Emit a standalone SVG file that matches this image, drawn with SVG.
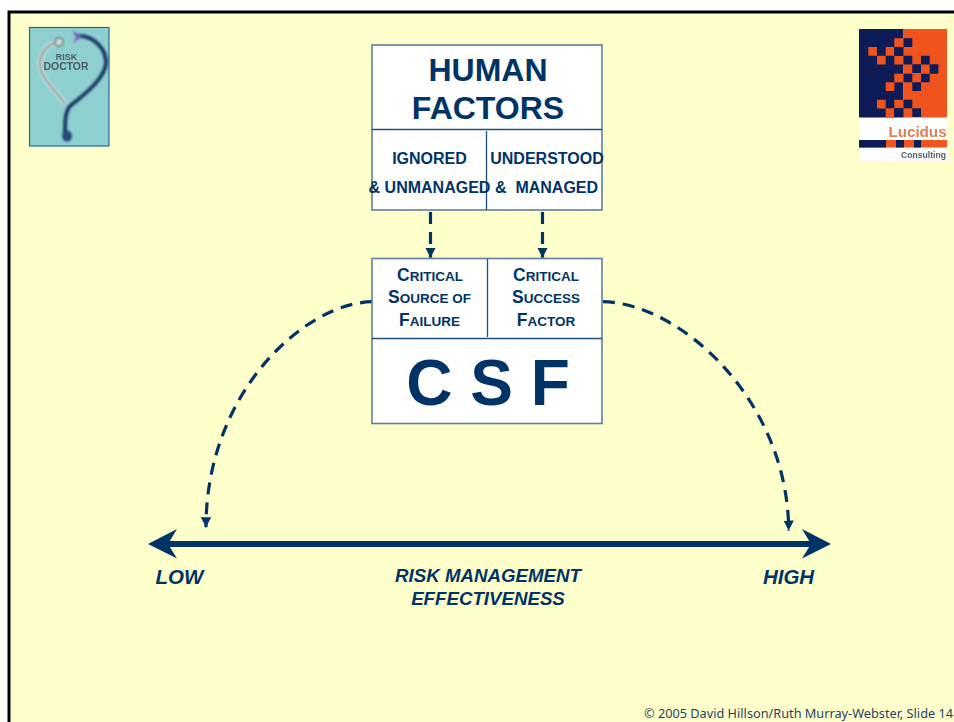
<svg xmlns="http://www.w3.org/2000/svg" width="954" height="722" viewBox="0 0 954 722">
<style>
.box{fill:#fff;stroke:#5f7f9c;stroke-width:1.6}
.div{stroke:#1f4f7c;stroke-width:1.3;fill:none}
text{font-family:"Liberation Sans",Arial,sans-serif;font-weight:bold;fill:#003366;text-anchor:middle}
.t1{font-size:32px}
.t2{font-size:16px;white-space:pre}
.t3{font-size:17.5px}
.t3 .s{font-size:13.5px}
.t4{font-size:64px}
.ax{font-size:20.5px;font-style:italic}
.ax2{font-size:18.7px;font-style:italic}
.dash{fill:none;stroke:#003366;stroke-width:3.2;stroke-dasharray:12 8}
.n{fill:#0b1a57}.o{fill:#f0521c}
.rd{fill:#4c5a60}
</style>
<defs>
<marker id="ah" markerUnits="userSpaceOnUse" markerWidth="12" markerHeight="12" refX="10" refY="6" orient="auto"><path d="M0 0.800L10 6L0 11.200z" fill="#003366"/></marker>
<filter id="b1" x="-5%" y="-5%" width="110%" height="110%"><feGaussianBlur stdDeviation="0.8"/></filter>
<filter id="b2" x="-5%" y="-5%" width="110%" height="110%"><feGaussianBlur stdDeviation="0.5"/></filter>
</defs>
<rect width="954" height="722" fill="#fff"/>
<path d="M9 722V12H954V722z" fill="#ffffcc"/>
<path d="M9 722V12H954" fill="none" stroke="#000" stroke-width="3"/>

<g id="risk-doctor-logo">
<rect x="29.500" y="27.500" width="79.500" height="118.500" fill="#8ed0d0" stroke="#2a6a90" stroke-width="1.200"/>
<g filter="url(#b1)">
<path d="M59 42C46 43 39 56 40 66C42 80 55 89 65 104" fill="none" stroke="#dfe6e6" stroke-width="4.500"/>
<path d="M59 42C46 43 39 56 40 66C42 80 55 89 65 104" fill="none" stroke="#7f8f92" stroke-width="2"/>
<path d="M78 36C94 35 107 50 106 64C104 78 88 92 70 106C65 112 65 122 65 133" fill="none" stroke="#1f3a68" stroke-width="4"/>
<path d="M72 30L82 37L73 43L76 37z" fill="#7a62b8"/>
<circle cx="59" cy="42" r="4" fill="#d5dcdc" stroke="#566" stroke-width="1.500"/>
<ellipse cx="67" cy="136" rx="5" ry="5.500" fill="#274a78"/>
</g>
<text class="rd" x="66.500" y="60" style="font-size:9px" filter="url(#b2)">RISK</text>
<text class="rd" x="66" y="70" style="font-size:10.400px" filter="url(#b2)">DOCTOR</text>
</g>

<g id="lucidus-logo">
<rect x="859" y="29" width="88" height="132" fill="#fff"/>
<g filter="url(#b2)">
<rect x="859" y="29" width="44.500" height="88.500" class="n"/>
<rect x="903.500" y="29" width="43.500" height="88.500" class="o"/>
<path class="o" d="M894.300 38.300h9v8.700h-9zM868.300 47h8.700v8.700h-8.700zM885.700 47h8.700v8.700h-8.700zM877 55.700h8.700v8.700h-8.700zM894.300 55.700h9v8.700h-9zM894.300 73.700h9v8.700h-9zM885.700 82.300h8.700v8.700h-8.700zM877 99.700h8.700v8.700h-8.700zM894.300 99.700h9v8.700h-9zM885.700 108.300h8.700v8.700h-8.700z"/>
<path class="n" d="M903.500 38.300h8.800v8.700h-8.800zM894.300 47h9.200v8.700h-9.200zM903.500 55.700h8.800v8.700h-8.800zM921 55.700h8.700v8.700h-8.700zM912.300 64.300h8.700v8.700h-8.700zM929.700 64.300h8.700v9.400h-8.700zM903.500 73.700h8.800v8.600h-8.800zM921 73.700h8.700v8.600h-8.700zM912.300 82.300h8.700v8.700h-8.700zM903.500 99.700h8.800v8.600h-8.800zM894.300 108.300h9.200v8.700h-9.200zM912.300 108.300h8.700v8.700h-8.700z"/>
<rect x="859" y="140" width="88" height="7.500" class="o"/>
<path class="n" d="M859 140h27v7.500h-27zM896 140h8v7.500h-8zM914 140h7v7.500h-7z"/>
</g>
<text x="917.500" y="137" style="font-size:15.200px;fill:#e0805a" filter="url(#b2)">Lucidus</text>
<text x="923.500" y="158" style="font-size:8.600px;fill:#55606a" filter="url(#b2)">Consulting</text>
</g>

<g id="connectors">
<path class="dash" d="M430.500 212V257.700" marker-end="url(#ah)"/>
<path class="dash" d="M542.500 212V257.700" marker-end="url(#ah)"/>
<path class="dash" d="M372 301.700C305 303 206 392 206 527.300" marker-end="url(#ah)"/>
<path class="dash" d="M603 301.700C680 303 788 400 788.700 530.500" marker-end="url(#ah)"/>
<path d="M168 544H811" stroke="#003366" stroke-width="6" fill="none"/>
<path d="M148 544L177 529L168 544L177 558.500z" fill="#003366"/>
<path d="M831 544L802 529L811 544L802 558.500z" fill="#003366"/>
</g>

<g id="human-factors">
<rect class="box" x="372" y="45" width="230" height="165"/>
<path class="div" d="M372 129.500H602M486.500 131V210"/>
<text class="t1" x="488" y="81">HUMAN</text>
<text class="t1" x="488" y="119">FACTORS</text>
<text class="t2" x="429.500" y="164">IGNORED</text>
<text class="t2" x="429.500" y="193">&amp; UNMANAGED</text>
<text class="t2" x="547" y="164">UNDERSTOOD</text>
<text class="t2" x="546.500" y="193">&amp;  MANAGED</text>
</g>

<g id="csf">
<rect class="box" x="372" y="258.500" width="230" height="165"/>
<path class="div" d="M372 338.500H602M487.500 259V337"/>
<text class="t3" x="430" y="281">C<tspan class="s">RITICAL</tspan></text>
<text class="t3" x="429.500" y="303">S<tspan class="s">OURCE OF</tspan></text>
<text class="t3" x="429.500" y="326">F<tspan class="s">AILURE</tspan></text>
<text class="t3" x="546" y="281">C<tspan class="s">RITICAL</tspan></text>
<text class="t3" x="546" y="303">S<tspan class="s">UCCESS</tspan></text>
<text class="t3" x="546" y="326">F<tspan class="s">ACTOR</tspan></text>
<text class="t4" x="488" y="405">C S F</text>
</g>

<g id="labels">
<text class="ax" x="179.500" y="584">LOW</text>
<text class="ax" x="788.500" y="584">HIGH</text>
<text class="ax2" x="488" y="582">RISK MANAGEMENT</text>
<text class="ax2" x="488" y="605">EFFECTIVENESS</text>
<text x="644" y="718" style="font-family:'Noto Sans','DejaVu Sans',sans-serif;font-weight:normal;font-size:12.500px;text-anchor:start;fill:#1f3f66" textLength="309" lengthAdjust="spacingAndGlyphs">© 2005 David Hillson/Ruth Murray-Webster, Slide 14</text>
</g>
</svg>
